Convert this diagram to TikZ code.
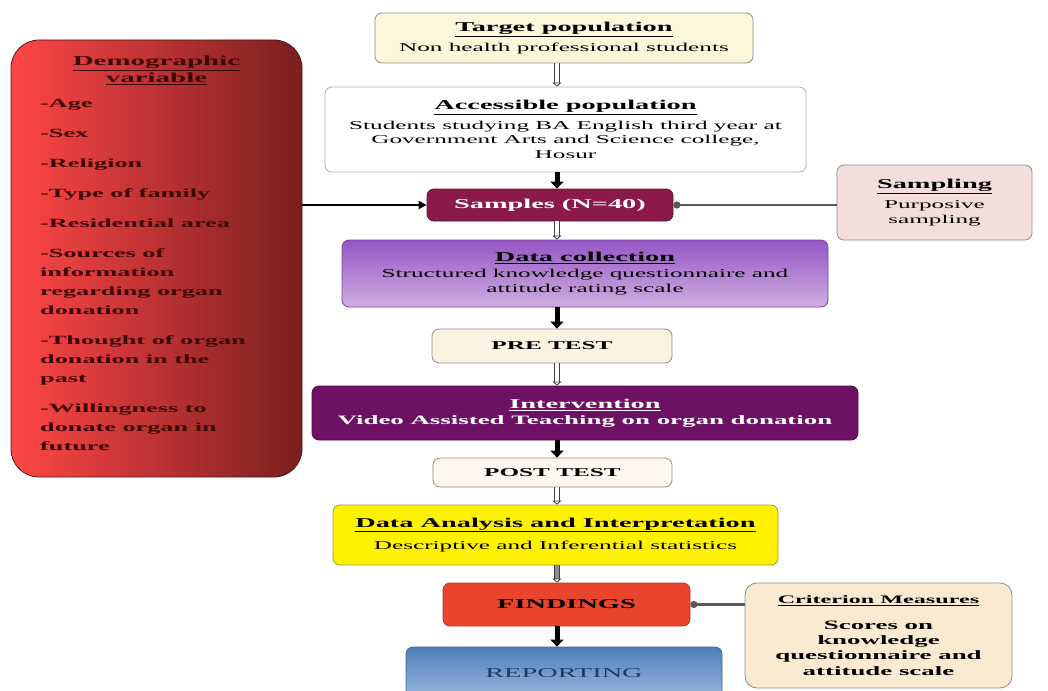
\documentclass[tikz,border=0pt]{standalone}
\usepackage{fontspec}
\setmainfont{Liberation Serif}[FakeStretch=2.1]
\usetikzlibrary{arrows.meta,positioning}

\definecolor{linegray}{HTML}{8C8C8C}
\definecolor{targetfill}{HTML}{FCF6DA}
\definecolor{accessline}{HTML}{9FB0C4}
\definecolor{samplesfill}{HTML}{8B1A4B}
\definecolor{samplingfill}{HTML}{F3DEDD}
\definecolor{collecttop}{HTML}{9556C6}
\definecolor{collectbot}{HTML}{CFAEE0}
\definecolor{testfill}{HTML}{FCF2E2}
\definecolor{intervfill}{HTML}{6C1163}
\definecolor{yellowline}{HTML}{9A9A30}
\definecolor{findfill}{HTML}{E8452C}
\definecolor{reporttop}{HTML}{4F7FBC}
\definecolor{reportbot}{HTML}{9AB8DC}
\definecolor{reporttext}{HTML}{1F3864}
\definecolor{critfill}{HTML}{FBEAD2}
\definecolor{demoleft}{HTML}{FF4646}
\definecolor{demoright}{HTML}{7A1F1F}
\definecolor{demotext}{HTML}{3E0707}

\newcommand{\titlesize}{\fontsize{13.5}{16}\selectfont}
\newcommand{\bodysize}{\fontsize{12}{14.5}\selectfont}

\begin{document}
\begin{tikzpicture}[x=1pt,y=-1pt,
  box/.style={draw=linegray, line width=0.8pt, rounded corners=7pt, align=center, inner sep=0pt, font=\bodysize},
  solidarrow/.style={black, line width=5pt, -{Triangle[length=7pt,width=13pt]}},
  hollowarrow/.style={draw=black!75, line width=0.8pt, double=white, double distance=4pt, -{Triangle[open,length=4pt,width=9pt]}},
  plainarrow/.style={black, line width=2.5pt, -{Triangle[length=8pt,width=8pt]}},
  knobarrow/.style={black!65, line width=2.5pt, -{Circle[length=7pt]}}]
\useasboundingbox (0,0) rectangle (1048,690);
\clip (0,0) rectangle (1048,690);
\fill[white] (0,0) rectangle (1048,690);

% main column
\node[box, fill=targetfill, minimum width=378, minimum height=50] (target) at (564,38)
  {{\titlesize\underline{\textbf{Target population}}}\\[5pt]Non health professional students};
\node[box, draw=accessline, fill=white, minimum width=481, minimum height=85] (access) at (565.5,129.5)
  {{\titlesize\underline{\textbf{Accessible population}}}\\[5pt]Students studying BA English third year at\\Government Arts and Science college,\\Hosur};
\node[box, draw=samplesfill!70!black, fill=samplesfill, text=white, minimum width=246, minimum height=32, font=\titlesize] (samples) at (550,205)
  {\textbf{Samples (N=40)}};
\node[box, top color=collecttop, bottom color=collectbot, draw=collecttop!80!black, minimum width=486, minimum height=67] (collect) at (585,273.5)
  {{\titlesize\underline{\textbf{Data collection}}}\\[2pt]Structured knowledge questionnaire and\\attitude rating scale};
\node[box, fill=testfill, minimum width=240, minimum height=34] (pretest) at (552,346)
  {\textbf{PRE TEST}};
\node[box, draw=intervfill!70!black, fill=intervfill, text=white, minimum width=546, minimum height=54, font=\fontsize{12.8}{15}\selectfont\bfseries] (interv) at (585,413)
  {{\titlesize\underline{Intervention}}\\[1pt]Video Assisted Teaching on organ donation};
\node[box, fill=testfill!60, minimum width=239, minimum height=29] (posttest) at (552.5,472.5)
  {\textbf{POST TEST}};
\node[box, draw=yellowline, fill=yellow, minimum width=445, minimum height=60] (analysis) at (555.5,535)
  {{\titlesize\underline{\textbf{Data Analysis and Interpretation}}}\\[8pt]Descriptive and Inferential statistics};
\node[box, draw=findfill!80!black, fill=findfill, minimum width=247, minimum height=43, font=\titlesize] (findings) at (566.5,604.5)
  {\textbf{FINDINGS}};
\node[box, draw=reporttop!80!black, top color=reporttop, bottom color=reportbot, text=reporttext, minimum width=316, minimum height=52, font=\titlesize] (reporting) at (564,673)
  {REPORTING};

% side boxes
\node[box, fill=samplingfill, minimum width=195, minimum height=75] (sampling) at (934.5,202.5)
  {{\titlesize\underline{\textbf{Sampling}}}\\[6pt]Purposive\\sampling};
\node[box, fill=critfill, rounded corners=12pt, minimum width=267, minimum height=105, font=\fontsize{12.8}{15.3}\selectfont\bfseries] (crit) at (878.5,635.5)
  {{\fontsize{11.5}{14}\selectfont\underline{Criterion Measures}}\\[10pt]Scores on\\knowledge\\questionnaire and\\attitude scale};
\node[box, draw=demoright!70!black, left color=demoleft, right color=demoright, rounded corners=28pt, minimum width=291, minimum height=437] (demo) at (156.5,258.5) {};
\node[text=demotext, align=center, below=13pt of demo.north, font=\fontsize{13.8}{16.5}\selectfont\bfseries] (demotitle)
  {\underline{Demographic}\\\underline{variable}};
\node[text=demotext, align=left, anchor=north west, inner sep=0pt, font=\fontsize{12.5}{19}\selectfont\bfseries] (demolist) at (40,99)
  {-Age\\[11pt]-Sex\\[11pt]-Religion\\[11pt]-Type of family\\[11pt]-Residential area\\[11pt]
   -Sources of\\information\\regarding organ\\donation\\[11pt]
   -Thought of organ\\donation in the\\past\\[11pt]
   -Willingness to\\donate organ in\\future};

% connectors
\coordinate (spine) at (557,0);
\draw[hollowarrow] (target.south -| spine) -- (access.north -| spine);
\draw[solidarrow] (access.south -| spine) -- (samples.north -| spine);
\draw[hollowarrow] (samples.south -| spine) -- (collect.north -| spine);
\draw[solidarrow] (collect.south -| spine) -- (pretest.north -| spine);
\draw[hollowarrow] (pretest.south -| spine) -- (interv.north -| spine);
\draw[solidarrow] (interv.south -| spine) -- (posttest.north -| spine);
\draw[hollowarrow] (posttest.south -| spine) -- (analysis.north -| spine);
\draw[hollowarrow, double=black!45] (analysis.south -| spine) -- (findings.north -| spine);
\draw[solidarrow] (findings.south -| spine) -- (reporting.north -| spine);
\draw[plainarrow] (demo.east |- samples.west) -- (samples.west);
\draw[knobarrow] (sampling.west |- samples.east) -- (samples.east);
\draw[knobarrow] (crit.west |- findings.east) -- (findings.east);
\end{tikzpicture}
\end{document}
